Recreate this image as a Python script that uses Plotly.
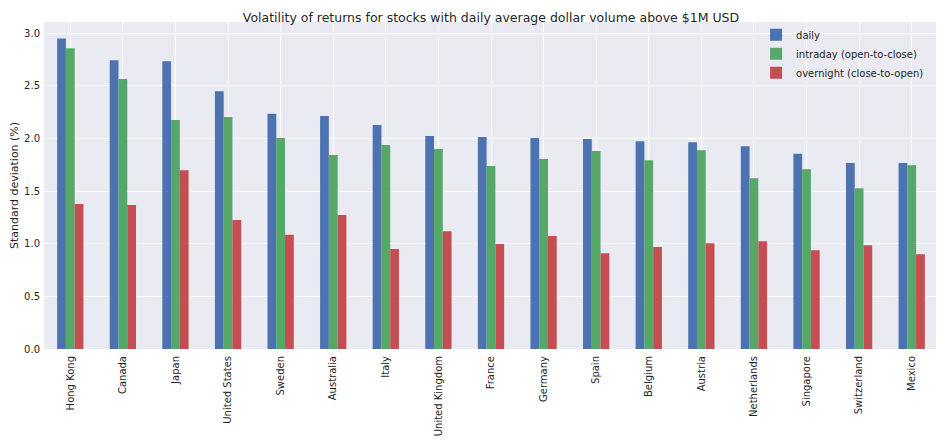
import plotly.graph_objects as go

countries = ["Hong Kong", "Canada", "Japan", "United States", "Sweden", "Australia", "Italy",
             "United Kingdom", "France", "Germany", "Spain", "Belgium", "Austria", "Netherlands",
             "Singapore", "Switzerland", "Mexico"]
daily = [2.95, 2.745, 2.735, 2.45, 2.235, 2.215, 2.13, 2.025, 2.015, 2.006, 1.996, 1.975, 1.965,
         1.927, 1.855, 1.768, 1.768]
intraday = [2.858, 2.567, 2.177, 2.205, 2.006, 1.843, 1.94, 1.9, 1.74, 1.806, 1.882, 1.795, 1.889,
            1.623, 1.708, 1.528, 1.746]
overnight = [1.378, 1.369, 1.70, 1.227, 1.087, 1.274, 0.95, 1.12, 0.998, 1.074, 0.91, 0.97, 1.005,
             1.024, 0.938, 0.986, 0.90]

series = [("daily", daily, "#4C72B0"),
          ("intraday (open-to-close)", intraday, "#55A868"),
          ("overnight (close-to-open)", overnight, "#C44E52")]

fig = go.Figure()
for name, vals, color in series:
    fig.add_trace(go.Bar(x=countries, y=vals, name=name, marker_color=color,
                         marker_line_width=0))

font = "DejaVu Sans, sans-serif"
fig.update_layout(
    width=936, height=435,
    barmode="group", bargap=0.5, bargroupgap=0,
    paper_bgcolor="white", plot_bgcolor="#EAEAF2",
    margin=dict(l=36, r=6, t=14, b=94, autoexpand=False),
    font=dict(family=font, size=10, color="#262626"),
    title=dict(text="Volatility of returns for stocks with daily average dollar volume above $1M USD",
               x=0.5, xref="paper", xanchor="center", y=1, yref="paper", yanchor="bottom",
               pad=dict(b=0), font=dict(size=12.5, color="#262626")),
    legend=dict(x=0.99, y=1.005, xanchor="right", yanchor="top", bgcolor="rgba(0,0,0,0)",
                font=dict(size=10, color="#262626"), itemwidth=30, tracegroupgap=0),
    showlegend=True,
)
fig.update_xaxes(showgrid=True, gridcolor="white", gridwidth=1, tickangle=-90,
                 range=[-0.5, 16.5], ticks="", tickfont=dict(size=10, color="#262626"),
                 zeroline=False, showline=False, automargin=False, ticklabelstandoff=4)
fig.update_yaxes(showgrid=True, gridcolor="white", gridwidth=1, range=[0, 3.108],
                 tickvals=[0, 0.5, 1.0, 1.5, 2.0, 2.5, 3.0],
                 ticktext=["0.0", "0.5", "1.0", "1.5", "2.0", "2.5", "3.0"],
                 ticks="", tickfont=dict(size=10, color="#262626"), zeroline=False,
                 automargin=False, ticklabelstandoff=3,
                 title=dict(text="Standard deviation (%)", font=dict(size=11, color="#262626"),
                            standoff=6))

fig.write_html("out.html")
